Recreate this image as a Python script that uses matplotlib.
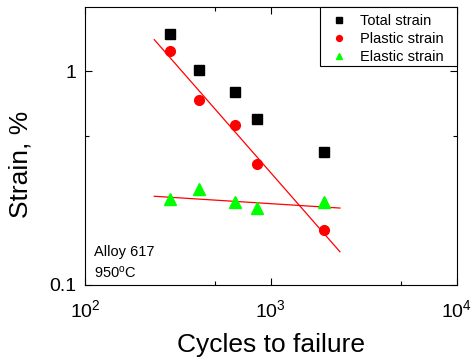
import matplotlib
matplotlib.use("Agg")
import matplotlib.pyplot as plt
from matplotlib.patches import Rectangle
from matplotlib.ticker import LogLocator, FixedFormatter, FixedLocator, NullFormatter

plt.rcParams["font.family"] = ["Liberation Sans", "DejaVu Sans"]
plt.rcParams["mathtext.fontset"] = "custom"
plt.rcParams["mathtext.rm"] = "Liberation Sans"
plt.rcParams["mathtext.it"] = "Liberation Sans:italic"

# Data (cycles to failure vs strain, %)
cycles = [286, 412, 643, 838, 1936]
total_strain = [1.50, 1.01, 0.80, 0.597, 0.42]
plastic_strain = [1.25, 0.735, 0.562, 0.370, 0.180]
elastic_strain = [0.252, 0.282, 0.244, 0.228, 0.244]

# Fitted power-law lines (end points)
fit_cycles = [236, 2350]
plastic_fit = [1.405, 0.143]
elastic_fit = [0.260, 0.229]

fig = plt.figure(figsize=(4.72, 3.63), dpi=100)
ax = fig.add_axes([0.180, 0.215, 0.788, 0.766])

ax.plot(fit_cycles, plastic_fit, color="#ff0000", lw=0.9, zorder=2)
ax.plot(fit_cycles, elastic_fit, color="#ff0000", lw=0.9, zorder=2)

ax.plot(cycles, total_strain, ls="none", marker="s", ms=6.5, color="black",
        label="Total strain", zorder=3)
ax.plot(cycles, plastic_strain, ls="none", marker="o", ms=7, color="#ff0000",
        label="Plastic strain", zorder=3)
ax.plot(cycles, elastic_strain, ls="none", marker="^", ms=8, color="#00ff00",
        label="Elastic strain", zorder=3)

ax.set_xscale("log")
ax.set_yscale("log")
ax.set_xlim(100, 10000)
ax.set_ylim(0.1, 2.0)

ax.xaxis.set_minor_locator(LogLocator(base=10, subs=[5]))
ax.xaxis.set_minor_formatter(NullFormatter())
ax.yaxis.set_major_locator(FixedLocator([0.1, 1]))
ax.yaxis.set_major_formatter(FixedFormatter(["0.1", "1"]))
ax.yaxis.set_minor_locator(FixedLocator([0.5]))
ax.yaxis.set_minor_formatter(NullFormatter())

ax.tick_params(which="both", direction="in", top=True, right=True, labelsize=14)
ax.tick_params(axis="x", which="both", pad=10)
ax.tick_params(axis="y", which="both", pad=6.5)
ax.tick_params(which="major", length=5, width=0.8)
ax.tick_params(which="minor", length=3, width=0.8)

ax.set_xlabel("Cycles to failure", fontsize=19, labelpad=9)
ax.set_ylabel("Strain, %", fontsize=19)
ax.yaxis.set_label_coords(-0.140, 0.435)

ax.text(0.025, 0.119, "Alloy 617", transform=ax.transAxes, fontsize=10.5, va="center")
ax.text(0.025, 0.045, r"950$^{\rm o}$C", transform=ax.transAxes, fontsize=10.5, va="center")

# legend frame drawn as its own box, entries placed inside it
ax.add_patch(Rectangle((0.632, 0.788), 0.368, 0.212, transform=ax.transAxes,
                       facecolor="white", edgecolor="black", lw=0.8, zorder=4,
                       clip_on=False))
leg = ax.legend(loc="upper left", bbox_to_anchor=(0.663, 0.975), fontsize=10.5,
                frameon=False, markerscale=0.6, borderaxespad=0, borderpad=0,
                handlelength=1.0, handletextpad=0.94, labelspacing=0.28)
leg.set_zorder(5)

fig.savefig("out.png", dpi=100)
